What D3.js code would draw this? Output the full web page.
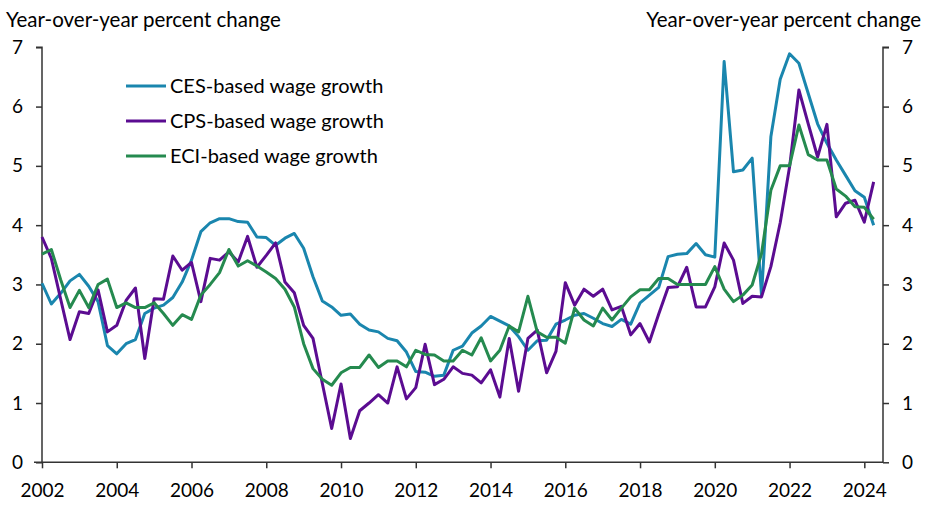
<!DOCTYPE html>
<html>
<head>
<meta charset="utf-8">
<script src="https://cdnjs.cloudflare.com/ajax/libs/d3/7.8.5/d3.min.js"></script>
<style>
  html, body { margin: 0; padding: 0; background: #fff; }
  svg { display: block; }
  text { font-family: Lato, "Open Sans", sans-serif; fill: #000; }
</style>
</head>
<body>
<svg id="chart" width="925" height="506"></svg>
<script>
// Quarterly observations, 2002Q1 .. 2024Q2
const startYear = 2002;
const xTickLabels = ["2002","2004","2006","2008","2010","2012","2014","2016","2018","2020","2022","2024"];
const yTicks = [0,1,2,3,4,5,6,7];
const seriesNames = ["CES-based wage growth","CPS-based wage growth","ECI-based wage growth"];
const seriesColors = ["#1a86ae","#5b0c91","#258a4f"];
const axisTitle = "Year-over-year percent change";

const ces = [
  3.02,2.67,2.85,3.06,3.17,2.97,2.71,1.97,1.83,2.00,2.07,2.51,2.60,2.65,2.78,3.04,
  3.41,3.89,4.04,4.11,4.11,4.06,4.05,3.80,3.79,3.66,3.78,3.86,3.61,3.13,2.72,2.62,
  2.48,2.50,2.33,2.23,2.20,2.09,2.05,1.86,1.53,1.52,1.45,1.47,1.89,1.96,2.18,2.30,
  2.46,2.38,2.30,2.12,1.89,2.05,2.06,2.33,2.40,2.48,2.51,2.43,2.34,2.29,2.41,2.33,
  2.69,2.82,2.95,3.47,3.51,3.52,3.69,3.50,3.46,6.76,4.90,4.93,5.13,2.82,5.49,6.46,
  6.89,6.73,6.22,5.71,5.38,5.10,4.84,4.58,4.47,4.00
];
const cps = [
  3.80,3.44,2.75,2.07,2.54,2.51,2.91,2.20,2.31,2.73,2.94,1.75,2.76,2.75,3.48,3.24,
  3.37,2.71,3.44,3.41,3.55,3.38,3.81,3.29,3.49,3.70,3.04,2.86,2.31,2.09,1.33,0.57,
  1.32,0.40,0.87,1.00,1.14,1.00,1.61,1.07,1.26,1.99,1.31,1.40,1.61,1.50,1.47,1.34,
  1.56,1.10,2.09,1.20,2.09,2.23,1.51,1.87,3.03,2.65,2.92,2.80,2.92,2.57,2.63,2.15,
  2.34,2.03,2.50,2.95,2.96,3.29,2.62,2.62,2.96,3.70,3.41,2.68,2.80,2.79,3.30,4.04,
  4.98,6.28,5.71,5.15,5.70,4.14,4.37,4.42,4.05,4.73
];
const eci = [
  3.51,3.59,3.08,2.61,2.90,2.61,3.00,3.09,2.61,2.69,2.61,2.61,2.69,2.51,2.31,2.49,
  2.41,2.82,3.00,3.20,3.59,3.31,3.40,3.31,3.21,3.10,2.92,2.62,2.00,1.58,1.40,1.30,
  1.51,1.60,1.60,1.81,1.60,1.71,1.71,1.61,1.89,1.82,1.81,1.71,1.71,1.89,1.81,2.10,
  1.71,1.89,2.30,2.20,2.80,2.20,2.11,2.11,2.01,2.60,2.40,2.30,2.60,2.40,2.60,2.79,
  2.91,2.91,3.10,3.10,3.00,3.00,3.00,3.00,3.30,2.92,2.71,2.82,2.99,3.52,4.59,5.00,
  5.00,5.69,5.19,5.10,5.10,4.61,4.49,4.31,4.30,4.10
];
const seriesValues = [ces, cps, eci];

const svg = d3.select("#chart");
const plotLeft = 42, plotRight = 883, plotTop = 47.3, plotBottom = 462.3;

const x = d3.scaleLinear().domain([0, 90]).range([plotLeft, plotRight]);
const y = d3.scaleLinear().domain([0, 7]).range([plotBottom, plotTop]);

// Axes
const gl = svg.append("g").attr("transform", `translate(${plotLeft},0)`)
  .call(d3.axisLeft(y).tickValues(yTicks).tickSize(6).tickPadding(13).tickFormat(d3.format("d")));
const gr = svg.append("g").attr("transform", `translate(${plotRight},0)`)
  .call(d3.axisRight(y).tickValues(yTicks).tickSize(6).tickPadding(13).tickFormat(d3.format("d")));
const tickIdx = xTickLabels.map((l) => (+l - startYear) * 4);
const gx = svg.append("g").attr("transform", `translate(0,${plotBottom})`)
  .call(d3.axisBottom(x).tickValues(tickIdx).tickSize(6).tickPadding(15)
    .tickFormat((d, i) => xTickLabels[i]));

[gl, gr, gx].forEach(g => {
  g.select(".domain").attr("stroke", "#333").attr("stroke-width", 1.5);
  g.selectAll(".tick line").attr("stroke", "#333").attr("stroke-width", 1.5);
  g.selectAll(".tick text").attr("font-size", 19).attr("font-family", "Lato, sans-serif").attr("fill", "#000");
});
gl.select(".domain").attr("d", `M-6,${plotTop}H0V${plotBottom}`);
gr.select(".domain").attr("d", `M6,${plotTop}H0V${plotBottom}`);
gx.select(".domain").attr("d", `M${plotLeft - 8},0H${plotRight}`);

// Lines
const line = d3.line().x((d, i) => x(i)).y(d => y(d));
seriesValues.forEach((vals, k) => {
  svg.append("path").datum(vals)
    .attr("fill", "none")
    .attr("stroke", seriesColors[k])
    .attr("stroke-width", 3)
    .attr("stroke-linejoin", "round")
    .attr("d", line);
});

// Axis titles
svg.append("text").attr("x", 6).attr("y", 27).attr("font-size", 20.5).text(axisTitle);
svg.append("text").attr("x", 921).attr("y", 27).attr("font-size", 20.5)
  .attr("text-anchor", "end").text(axisTitle);

// Legend
const legend = svg.append("g");
seriesNames.forEach((name, k) => {
  const ly = 86 + k * 35;
  legend.append("line").attr("x1", 126).attr("x2", 166).attr("y1", ly).attr("y2", ly)
    .attr("stroke", seriesColors[k]).attr("stroke-width", 3);
  legend.append("text").attr("x", 170).attr("y", ly + 7).attr("font-size", 20).text(name);
});
</script>
</body>
</html>
